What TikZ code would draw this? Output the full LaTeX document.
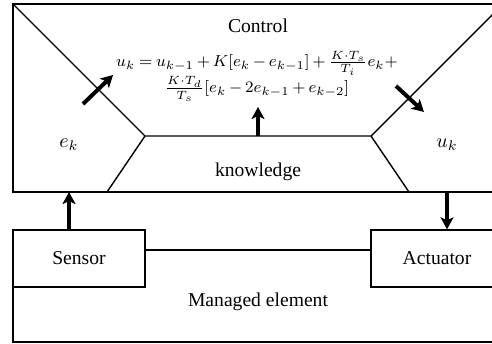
\documentclass[tikz,border=0pt]{standalone}
\usepackage{fontspec}
\setmainfont{Liberation Serif}
\usetikzlibrary{arrows.meta,calc}
\tikzset{
  flow/.style={line width=2pt,-{Stealth[length=6pt,width=6.5pt,inset=1.5pt]}},
  block/.style={draw,fill=white,minimum width=66pt,minimum height=28.5pt,inner sep=0pt}
}
\begin{document}
\begin{tikzpicture}[x=0.5pt,y=-0.5pt,line width=0.7pt,every node/.style={inner sep=1.5pt,font=\fontsize{9.8}{11}\selectfont}]
  \useasboundingbox(0,0)rectangle(492,343);
  \clip(0,0)rectangle(492,343);
  % control part
  \draw(13,4)coordinate(tl)rectangle(503,192)coordinate(br);
  \coordinate(kl)at(145,136);
  \coordinate(kr)at(371,136);
  \draw(tl)--(kl)--(kr)--(503,4);
  \draw(kl)--(107,192);
  \draw(kr)--(409,192);
  \node(ctrl)at(258,26){Control};
  \node[font=\fontsize{8.3}{9}\selectfont,inner sep=0pt](law)at(257,76){$\medmuskip=3mu\thickmuskip=4mu
    \begin{array}{@{}c@{}}
      u_k=u_{k-1}+K[e_k-e_{k-1}]+\frac{K\cdot T_s}{T_i}e_k+\\[2.5pt]
      \frac{K\cdot T_d}{T_s}[e_k-2e_{k-1}+e_{k-2}]
    \end{array}$};
  \node(ek)at(69,145){$e_k$};
  \node(uk)at(447,145){$u_k$};
  \node(know)at(258,172){knowledge};
  \draw[flow](83,104)--(113,75);
  \draw[flow](396,86)--(424,112);
  \draw[flow](258,136)--(258,107);
  % managed element
  \draw(13,250)rectangle(503,342);
  \node(elem)at(258,302){Managed element};
  \node[block](sensor)at(79,258.5){Sensor};
  \node[block](act)at(437,258.5){Actuator};
  \draw[flow](sensor.north-|ek)--(ek|-br);
  \draw[flow](uk|-br)--(act.north-|uk);
\end{tikzpicture}
\end{document}
